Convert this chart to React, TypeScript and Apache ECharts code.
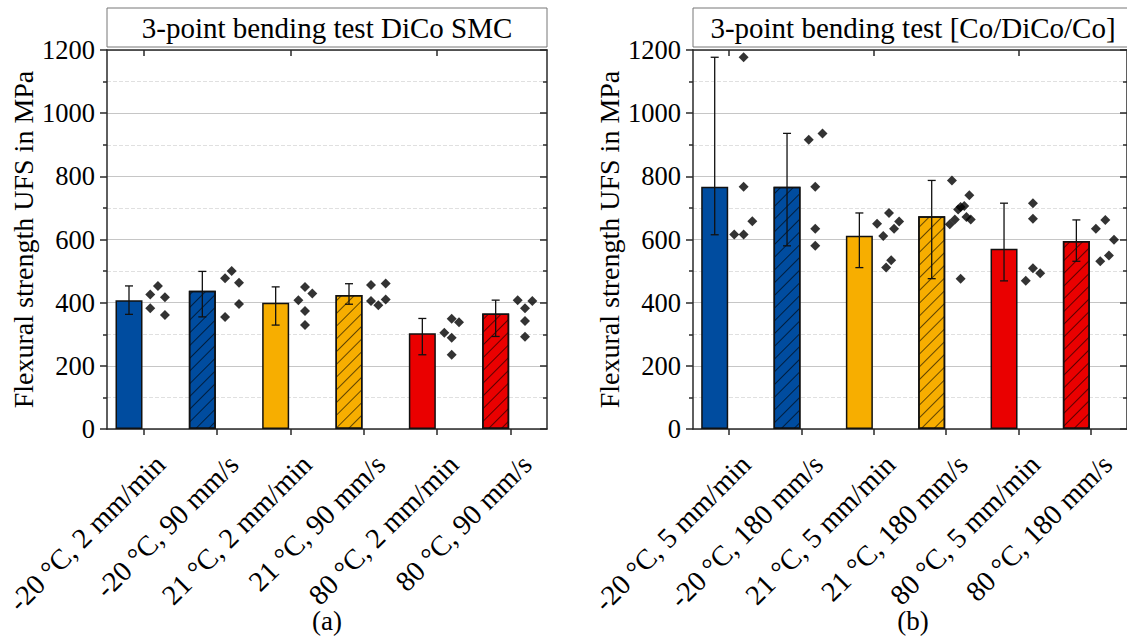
import React, { useEffect, useRef } from "react";
import * as echarts from "echarts";

const leftCategories = ["-20 °C, 2 mm/min", "-20 °C, 90 mm/s", "21 °C, 2 mm/min", "21 °C, 90 mm/s", "80 °C, 2 mm/min", "80 °C, 90 mm/s"];
const rightCategories = ["-20 °C, 5 mm/min", "-20 °C, 180 mm/s", "21 °C, 5 mm/min", "21 °C, 180 mm/s", "80 °C, 5 mm/min", "80 °C, 180 mm/s"];

const leftMeans = [408, 438, 400, 424, 303, 366];
const leftRange = [[363, 453], [355, 499], [329, 450], [395, 460], [235, 350], [293, 408]];
const leftSpecimens = [
  [426, 453, 417, 382, 361],
  [477, 500, 463, 396, 355],
  [408, 450, 429, 374, 329],
  [456, 461, 405, 392, 410],
  [349, 338, 305, 289, 235],
  [408, 405, 382, 342, 292],
];
const leftJitter = [
  [0.09, 0.195, 0.29, 0.09, 0.29],
  [0.11, 0.2, 0.3, 0.3, 0.11],
  [0.11, 0.2, 0.3, 0.2, 0.2],
  [0.1, 0.3, 0.1, 0.2, 0.3],
  [0.2, 0.3, 0.1, 0.2, 0.2],
  [0.1, 0.3, 0.2, 0.2, 0.2],
];

const rightMeans = [767, 767, 612, 674, 571, 595];
const rightRange = [[615, 1177], [580, 936], [511, 684], [476, 787], [469, 715], [531, 662]];
const rightSpecimens = [
  [1177, 767, 658, 616, 616],
  [916, 936, 767, 634, 580],
  [650, 684, 657, 634, 611, 534, 511],
  [787, 740, 703, 706, 695, 671, 663, 663, 648, 476],
  [715, 666, 509, 493, 469],
  [662, 634, 599, 549, 531],
];
const rightJitter = [
  [0.2, 0.2, 0.32, 0.07, 0.2],
  [0.1, 0.29, 0.19, 0.19, 0.19],
  [0.045, 0.21, 0.35, 0.28, 0.13, 0.24, 0.17],
  [0.08, 0.32, 0.2, 0.25, 0.165, 0.28, 0.34, 0.12, 0.05, 0.2],
  [0.2, 0.2, 0.2, 0.3, 0.1],
  [0.2, 0.07, 0.32, 0.25, 0.13],
];

const yTicks = { min: 0, max: 1200, interval: 200 };
const barColors = ["#004c9f", "#004c9f", "#f7ae00", "#f7ae00", "#ea0000", "#ea0000"];
const hatched = [false, true, false, true, false, true];

const FONT = '"Liberation Serif", "Times New Roman", serif';
const AXIS = { color: "#2a2a2a", width: 1.5 };
const BAR_SHIFT = -0.2;

function buildPanel(idx: number, cats: string[], means: number[], range: number[][], specimens: number[][], jitter: number[][]) {
  const xBase = idx * 3;
  const yBase = idx * 2;
  const xAxes = [
    {
      gridIndex: idx, type: "category", data: cats, position: "bottom", boundaryGap: true,
      axisLine: { show: true, onZero: false, lineStyle: AXIS },
      axisTick: { show: true, alignWithLabel: true, length: 6, lineStyle: AXIS },
      axisLabel: {
        interval: 0, rotate: 45, fontSize: 28.5, fontFamily: FONT, color: "#000",
        margin: 14, align: "right", verticalAlign: "top", padding: [9, 0, 0, 0],
      },
      splitLine: { show: false },
    },
    {
      gridIndex: idx, type: "category", data: cats, position: "top", boundaryGap: true,
      axisLine: { show: true, onZero: false, lineStyle: AXIS },
      axisTick: { show: true, inside: true, alignWithLabel: true, length: 6, lineStyle: AXIS },
      axisLabel: { show: false },
      splitLine: { show: false },
    },
    { gridIndex: idx, type: "value", min: -0.5, max: 5.5, show: false, position: "top", axisLine: { onZero: false } },
  ];
  const yAxes = [
    {
      gridIndex: idx, type: "value", ...yTicks, position: "left",
      name: "Flexural strength UFS in MPa", nameLocation: "middle", nameGap: 70,
      nameTextStyle: { fontSize: 28, fontFamily: FONT, color: "#000" },
      axisLine: { show: true, onZero: false, lineStyle: AXIS },
      axisTick: { show: true, length: 7, lineStyle: AXIS },
      minorTick: { show: true, splitNumber: 2, length: 4, lineStyle: AXIS },
      axisLabel: { fontSize: 26.5, fontFamily: FONT, color: "#000", margin: 12, formatter: (v: number) => String(v) },
      splitLine: { show: true, lineStyle: { color: "#c6c6c6", width: 1 } },
      minorSplitLine: { show: true, lineStyle: { color: "#e0e0e0", width: 1, type: "dashed" } },
    },
    {
      gridIndex: idx, type: "value", ...yTicks, position: "right",
      axisLine: { show: true, onZero: false, lineStyle: AXIS },
      axisTick: { show: true, inside: true, length: 7, lineStyle: AXIS },
      minorTick: { show: true, splitNumber: 2, length: 4, lineStyle: AXIS },
      axisLabel: { show: false },
      splitLine: { show: false },
    },
  ];
  const series = [
    {
      type: "bar", xAxisIndex: xBase + 2, yAxisIndex: yBase, barWidth: 27, z: 2,
      data: means.map((v, i) => ({
        value: [i + BAR_SHIFT, v],
        itemStyle: {
          color: barColors[i], borderColor: "#111", borderWidth: 1.5,
          decal: hatched[i]
            ? { symbol: "rect", symbolSize: 1, color: "rgba(0,0,0,0.6)", dashArrayX: [1, 0], dashArrayY: [1, 8], rotation: -Math.PI / 4 }
            : "none",
        },
      })),
    },
    {
      type: "custom", xAxisIndex: xBase + 2, yAxisIndex: yBase, z: 3,
      encode: { x: 0, y: [1, 2] },
      data: range.map((r, i) => [i + BAR_SHIFT, r[0], r[1]]),
      renderItem: (params: any, api: any) => {
        const x = api.value(0);
        const lo = api.coord([x, api.value(1)]);
        const hi = api.coord([x, api.value(2)]);
        const st = { stroke: "#111", lineWidth: 1.3 };
        const cap = 4;
        return {
          type: "group",
          children: [
            { type: "line", shape: { x1: lo[0], y1: lo[1], x2: hi[0], y2: hi[1] }, style: st },
            { type: "line", shape: { x1: lo[0] - cap, y1: lo[1], x2: lo[0] + cap, y2: lo[1] }, style: st },
            { type: "line", shape: { x1: hi[0] - cap, y1: hi[1], x2: hi[0] + cap, y2: hi[1] }, style: st },
          ],
        };
      },
    },
    {
      type: "scatter", xAxisIndex: xBase + 2, yAxisIndex: yBase, z: 4,
      symbol: "diamond", symbolSize: 10, itemStyle: { color: "#000" },
      data: specimens.flatMap((vals, i) => vals.map((v, j) => [i + jitter[i][j], v])),
    },
  ];
  return { xAxes, yAxes, series };
}

export default function App() {
  const ref = useRef<HTMLDivElement>(null);
  useEffect(() => {
    document.body.style.margin = "0";
    document.body.style.overflow = "hidden";
    const chart = echarts.init(ref.current!, null, { renderer: "svg" });
    const p0 = buildPanel(0, leftCategories, leftMeans, leftRange, leftSpecimens, leftJitter);
    const p1 = buildPanel(1, rightCategories, rightMeans, rightRange, rightSpecimens, rightJitter);
    const grids = [
      { left: 107, top: 50, width: 440, height: 379 },
      { left: 693, top: 50, width: 437, height: 379 },
    ];
    const titles = ["3-point bending test DiCo SMC", "3-point bending test [Co/DiCo/Co]"];
    const tags = ["(a)", "(b)"];
    const graphic: any[] = [];
    grids.forEach((g, i) => {
      graphic.push({ type: "rect", z: 10, shape: { x: g.left, y: 8, width: g.width, height: 39 }, style: { fill: "#fff", stroke: "#777", lineWidth: 1 } });
      graphic.push({ type: "text", z: 11, x: g.left + 220, y: 28, style: { text: titles[i], fontSize: 29, fontFamily: FONT, fill: "#000", align: "center", verticalAlign: "middle" } });
      graphic.push({ type: "text", z: 11, x: g.left + 220, y: 621, style: { text: tags[i], fontSize: 27, fontFamily: FONT, fill: "#000", align: "center", verticalAlign: "middle" } });
    });
    chart.setOption({
      animation: false,
      backgroundColor: "#fff",
      grid: grids,
      xAxis: [...p0.xAxes, ...p1.xAxes],
      yAxis: [...p0.yAxes, ...p1.yAxes],
      series: [...p0.series, ...p1.series],
      graphic,
    } as any);
    return () => chart.dispose();
  }, []);
  return <div ref={ref} style={{ width: 1127, height: 642 }} />;
}
